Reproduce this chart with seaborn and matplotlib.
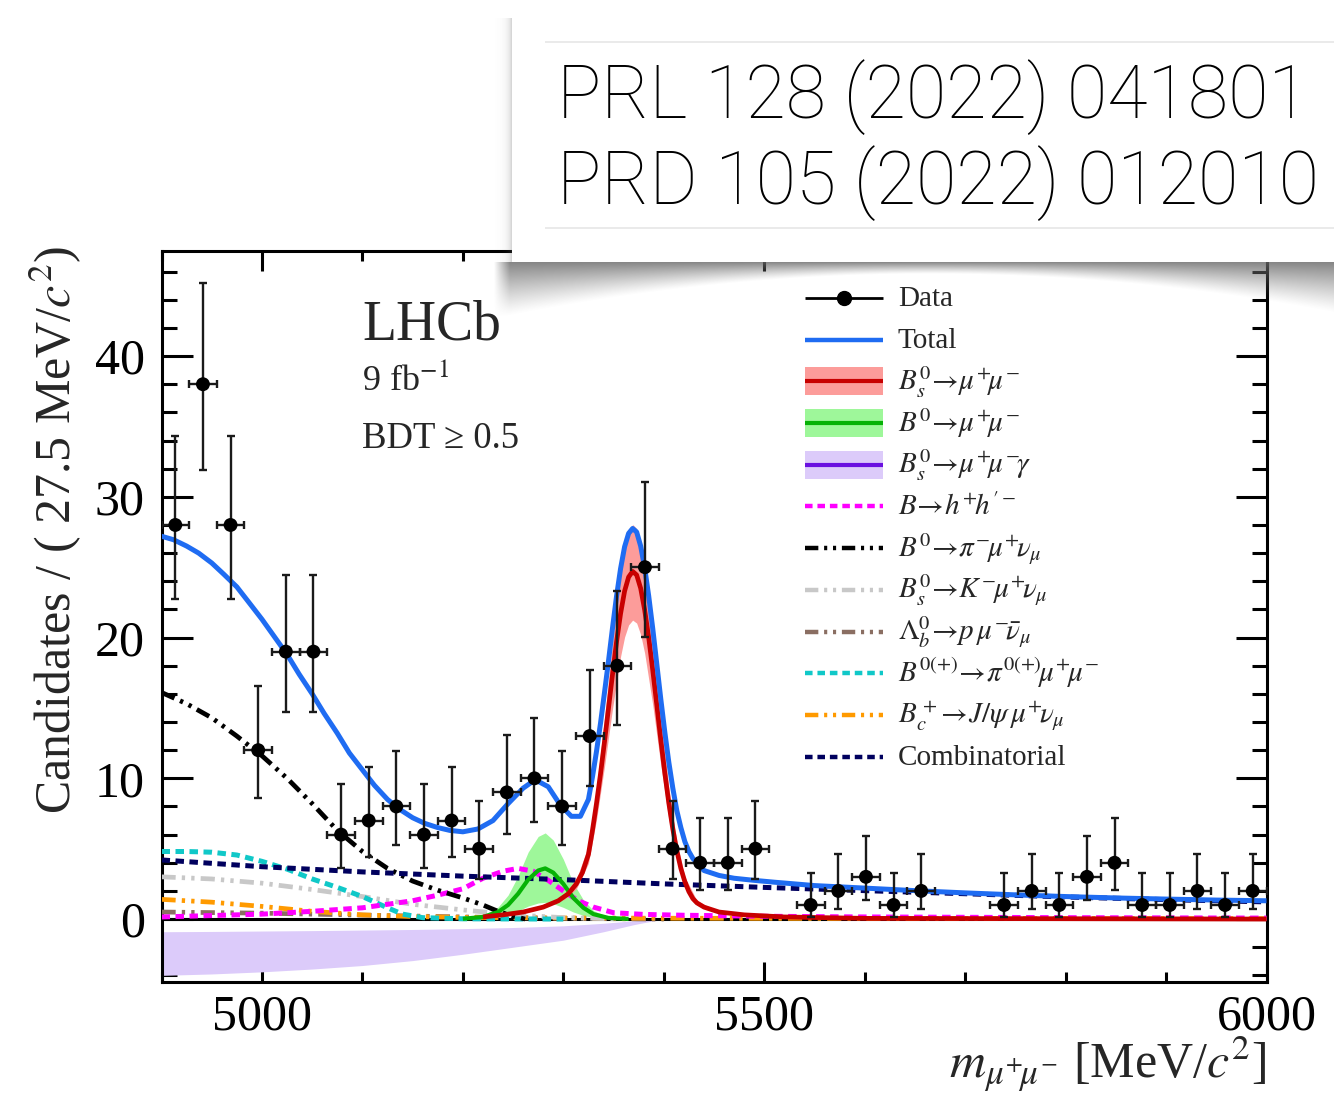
import numpy as np
import matplotlib
matplotlib.use("Agg")
import matplotlib.pyplot as plt
from matplotlib.ticker import MultipleLocator
from matplotlib.patches import Rectangle
from matplotlib.lines import Line2D
import seaborn as sns

# ---------------- data ----------------
bin_centers = [4913.75, 4941.25, 4968.75, 4996.25, 5023.75, 5051.25, 5078.75, 5106.25,
               5133.75, 5161.25, 5188.75, 5216.25, 5243.75, 5271.25, 5298.75, 5326.25,
               5353.75, 5381.25, 5408.75, 5436.25, 5463.75, 5491.25, 5518.75, 5546.25,
               5573.75, 5601.25, 5628.75, 5656.25, 5683.75, 5711.25, 5738.75, 5766.25,
               5793.75, 5821.25, 5848.75, 5876.25, 5903.75, 5931.25, 5958.75, 5986.25]
half_bin = 13.75
counts = [28, 38, 28, 12, 19, 19, 6, 7, 8, 6, 7, 5, 9, 10, 8, 13, 18, 25, 5, 4,
          4, 5, 0, 1, 2, 3, 1, 2, 0, 0, 1, 2, 1, 3, 4, 1, 1, 2, 1, 2]
err_lo = [5.26, 6.13, 5.26, 3.41, 4.32, 4.32, 2.38, 2.58, 2.77, 2.38, 2.58, 2.16, 2.94, 3.11,
          2.77, 3.56, 4.21, 4.96, 2.16, 1.91, 1.91, 2.16, 0, 0.83, 1.29, 1.63, 0.83, 1.29,
          0, 0, 0.83, 1.29, 0.83, 1.63, 1.91, 0.83, 0.83, 1.29, 0.83, 1.29]
err_hi = [6.35, 7.22, 6.35, 4.56, 5.43, 5.43, 3.58, 3.77, 3.95, 3.58, 3.77, 3.38, 4.11, 4.27,
          3.95, 4.70, 5.32, 6.06, 3.38, 3.16, 3.16, 3.38, 0, 2.30, 2.64, 2.92, 2.30, 2.64,
          0, 0, 2.30, 2.64, 2.30, 2.92, 3.16, 2.30, 2.30, 2.64, 2.30, 2.64]

total_x = [4900, 4912, 4925, 4937, 4950, 4962, 4975, 4987, 5000, 5012, 5025, 5037, 5050, 5062,
           5075, 5087, 5100, 5112, 5125, 5137, 5150, 5162, 5175, 5187, 5200, 5215, 5230, 5245,
           5260, 5272, 5285, 5297, 5308, 5317, 5325, 5329, 5333, 5337, 5341, 5345, 5349, 5353,
           5357, 5361, 5365, 5369, 5373, 5377, 5381, 5385, 5389, 5393, 5397, 5401, 5405, 5409,
           5413, 5417, 5421, 5425, 5429, 5433, 5440, 5455, 5470, 5490, 5510, 5550, 5600, 5650,
           5700, 5750, 5800, 5850, 5900, 5950, 6000]
total_y = [27.2, 26.95, 26.5, 26.0, 25.3, 24.5, 23.6, 22.5, 21.3, 20.1, 18.8, 17.4, 16.0, 14.6,
           13.2, 11.8, 10.6, 9.5, 8.5, 7.8, 7.2, 6.8, 6.5, 6.3, 6.2, 6.4, 7.0, 8.2,
           9.3, 9.9, 9.4, 8.1, 7.3, 7.3, 8.5, 10.1, 11.9, 13.9, 16.1, 18.35, 20.7, 22.95,
           24.9, 26.45, 27.4, 27.75, 27.5, 26.5, 24.95, 22.95, 20.65, 18.15, 15.65, 13.3, 11.15, 9.3,
           7.7, 6.5, 5.5, 4.8, 4.3, 4.0, 3.45, 3.1, 2.9, 2.75, 2.62, 2.38, 2.2, 2.02,
           1.86, 1.72, 1.6, 1.5, 1.42, 1.35, 1.3]

bs_x = [5220, 5240, 5260, 5280, 5295, 5305, 5313, 5319, 5325, 5329, 5333, 5337, 5341, 5345,
        5349, 5353, 5357, 5361, 5365, 5369, 5373, 5377, 5381, 5385, 5389, 5393, 5397, 5401,
        5405, 5409, 5413, 5417, 5421, 5425, 5429, 5433, 5440, 5455, 5480, 5520, 5600, 6000]
bs_y = [0.15, 0.3, 0.5, 0.85, 1.3, 1.8, 2.5, 3.3, 4.6, 6.3, 8.2, 10.3, 12.6, 15.0,
        17.4, 19.7, 21.7, 23.3, 24.3, 24.7, 24.45, 23.5, 21.95, 20.0, 17.7, 15.25, 12.75, 10.4,
        8.25, 6.4, 4.85, 3.6, 2.65, 1.95, 1.45, 1.15, 0.85, 0.5, 0.3, 0.15, 0.05, 0.0]
bsband_x = [5300, 5313, 5325, 5333, 5341, 5349, 5357, 5361, 5365, 5369, 5373, 5377, 5381,
            5389, 5397, 5405, 5413, 5421, 5433, 5450]
bsband_lo = [1.33, 2.15, 3.96, 7.05, 10.84, 14.96, 18.66, 20.04, 20.9, 21.24, 21.03, 20.21,
             18.88, 15.22, 10.97, 7.1, 4.17, 2.28, 0.99, 0.52]
bsband_hi = [1.76, 2.84, 5.22, 9.31, 14.3, 19.75, 24.63, 26.45, 27.58, 28.03, 27.75, 26.67,
             24.91, 20.09, 14.47, 9.36, 5.5, 3.01, 1.31, 0.68]

b0_x = [5200, 5220, 5235, 5245, 5255, 5265, 5275, 5282, 5290, 5300, 5310, 5320, 5330, 5345, 5365]
b0_y = [0.02, 0.15, 0.5, 1.0, 1.8, 2.8, 3.45, 3.6, 3.3, 2.5, 1.5, 0.8, 0.35, 0.08, 0.01]
b0_lo = [0.01, 0.05, 0.17, 0.33, 0.59, 0.92, 1.14, 1.19, 1.09, 0.83, 0.5, 0.26, 0.12, 0.03, 0.0]
b0_hi = [0.03, 0.26, 0.85, 1.7, 3.06, 4.76, 5.87, 6.12, 5.61, 4.25, 2.55, 1.36, 0.6, 0.14, 0.02]

gam_x = [4900, 4950, 5000, 5050, 5100, 5150, 5200, 5250, 5300, 5340, 5370, 5390, 5410]
gam_hi = [-0.9, -0.88, -0.85, -0.82, -0.78, -0.74, -0.68, -0.6, -0.48, -0.3, -0.12, -0.03, 0.0]
gam_lo = [-4.0, -3.9, -3.75, -3.55, -3.3, -2.95, -2.5, -2.0, -1.5, -0.9, -0.4, -0.12, 0.0]

comb_x = [4900, 5000, 5100, 5200, 5300, 5400, 5500, 5600, 5700, 5800, 5900, 6000]
comb_y = [4.2, 3.72, 3.35, 3.05, 2.8, 2.5, 2.25, 2.02, 1.8, 1.57, 1.38, 1.22]

pimunu_x = [4900, 4925, 4950, 4975, 5000, 5025, 5050, 5075, 5100, 5125, 5150, 5175, 5200,
            5220, 5235, 5250, 5262]
pimunu_y = [16.1, 15.3, 14.3, 13.0, 11.6, 10.0, 8.2, 6.3, 4.8, 3.6, 2.7, 2.05, 1.5,
            1.0, 0.55, 0.2, 0.0]

pimumu_x = [4900, 4925, 4950, 4975, 5000, 5025, 5050, 5075, 5100, 5125, 5140, 5160, 5200, 5300]
pimumu_y = [4.8, 4.8, 4.75, 4.55, 4.1, 3.55, 2.85, 2.25, 1.6, 0.8, 0.35, 0.1, 0.02, 0.0]

kmunu_x = [4900, 4950, 5000, 5050, 5100, 5150, 5200, 5250, 5300, 5350]
kmunu_y = [3.0, 2.85, 2.55, 2.1, 1.6, 1.05, 0.65, 0.3, 0.1, 0.02]

bc_x = [4900, 4950, 5000, 5050, 5100, 5150, 5200, 5300, 5400, 5600, 6000]
bc_y = [1.4, 1.2, 0.9, 0.55, 0.3, 0.18, 0.12, 0.08, 0.06, 0.04, 0.03]

lb_x = [4900, 5000, 5100, 5200, 5300, 5400]
lb_y = [0.5, 0.42, 0.28, 0.15, 0.05, 0.0]

hh_x = [4900, 4950, 5000, 5050, 5100, 5150, 5175, 5200, 5220, 5240, 5255, 5270, 5285, 5300,
        5315, 5330, 5350, 5380, 5420, 5500, 5600, 5800, 6000]
hh_y = [0.15, 0.25, 0.35, 0.55, 0.8, 1.3, 1.7, 2.15, 2.9, 3.4, 3.6, 3.4, 2.75, 2.0,
        1.3, 0.85, 0.45, 0.33, 0.27, 0.2, 0.15, 0.1, 0.07]

legend_labels = ["Data", "Total",
                 r"$B^0_s\!\rightarrow\!\mu^{+}\!\mu^{-}$",
                 r"$B^0\!\rightarrow\!\mu^{+}\!\mu^{-}$",
                 r"$B^0_s\!\rightarrow\!\mu^{+}\!\mu^{-}\!\gamma$",
                 r"$B\!\rightarrow\! h^{+}\!h^{\prime -}$",
                 r"$B^0\!\rightarrow\!\pi^{-}\!\mu^{+}\!\nu_\mu$",
                 r"$B^0_s\!\rightarrow\! K^{-}\!\mu^{+}\!\nu_\mu$",
                 r"$\mathit{\Lambda}^0_b\!\rightarrow\! p\,\mu^{-}\!\bar{\nu}_\mu$",
                 r"$B^{0(+)}\!\rightarrow\!\pi^{0(+)}\!\mu^{+}\!\mu^{-}$",
                 r"$B^+_c\!\rightarrow\! J/\psi\,\mu^{+}\!\nu_\mu$",
                 "Combinatorial"]
refs_text = ["PRL 128 (2022) 041801", "PRD 105 (2022) 012010"]

# ---------------- style ----------------
sns.set_theme(style="ticks")
SERIF = ["Liberation Serif", "DejaVu Serif"]
plt.rcParams.update({
    "font.family": SERIF,
    "font.serif": SERIF,
    "mathtext.fontset": "stix",
    "axes.linewidth": 2.2,
    "lines.solid_capstyle": "butt",
    "lines.dash_capstyle": "butt",
})

C_BLUE = "#1f6cf2"
C_RED = "#c80000"
C_REDBAND = "#fc9c9a"
C_GREEN = "#06b206"
C_GREENBAND = "#9ef79a"
C_VIOLET = "#6a10e0"
C_VIOBAND = "#dccbfa"
C_MAG = "#ff00ff"
C_CYAN = "#10c8c8"
C_GREY = "#c8c8c8"
C_BROWN = "#8a6e62"
C_ORANGE = "#ff9a00"
C_NAVY = "#00005e"

D_DASH = (1.7, 1.1)
D_DDOT = (3.0, 1.3, 0.7, 1.3, 0.7, 1.3)

W, H = 1334, 1108
fig = plt.figure(figsize=(W / 100, H / 100), dpi=100)
fig.patch.set_facecolor("white")
ax_l, ax_r, ax_t, ax_b = 161.5, 1266.5, 250.5, 981.7
ax = fig.add_axes([ax_l / W, (H - ax_b) / H, (ax_r - ax_l) / W, (ax_b - ax_t) / H])
ax.set_facecolor("white")


def curve(x, y, color, lw, dashes=None, z=4):
    sns.lineplot(x=x, y=y, ax=ax, color=color, linewidth=lw, estimator=None,
                 sort=False, zorder=z)
    ln = ax.lines[-1]
    if dashes is not None:
        ln.set_dashes(dashes)
    ln.set_solid_joinstyle("round")
    return ln


# bands
ax.fill_between(gam_x, gam_lo, gam_hi, color=C_VIOBAND, lw=0, zorder=2)
ax.fill_between(b0_x, b0_lo, b0_hi, color=C_GREENBAND, lw=0, zorder=2.2)
ax.fill_between(bsband_x, bsband_lo, bsband_hi, color=C_REDBAND, lw=0, zorder=2.4)
ax.axhline(0, color="black", lw=2.2, zorder=2.6)

# components
curve(lb_x, lb_y, C_BROWN, 3.4, D_DDOT, 3)
curve(bc_x, bc_y, C_ORANGE, 3.4, D_DDOT, 3)
curve(kmunu_x, kmunu_y, C_GREY, 3.4, D_DDOT, 3)
curve(pimumu_x, pimumu_y, C_CYAN, 3.6, D_DASH, 3.1)
curve(hh_x, hh_y, C_MAG, 3.6, D_DASH, 3.2)
curve(pimunu_x, pimunu_y, "black", 3.4, D_DDOT, 3.3)
curve(comb_x, comb_y, C_NAVY, 3.6, D_DASH, 3.4)
curve(b0_x, b0_y, C_GREEN, 3.0, None, 3.5)
curve(bs_x, bs_y, C_RED, 3.4, None, 3.6)
curve(total_x, total_y, C_BLUE, 3.6, None, 4.5)

# data
cnt = np.array(counts, dtype=float)
m = cnt > 0
xc = np.array(bin_centers)[m]
ax.errorbar(xc, cnt[m], yerr=[np.array(err_lo)[m], np.array(err_hi)[m]],
            xerr=half_bin, fmt="none", ecolor="#1a1a1a", elinewidth=1.7,
            capsize=2.8, capthick=1.7, zorder=9)
sns.scatterplot(x=xc, y=cnt[m], ax=ax, color="black", s=100, edgecolor="none",
                zorder=10, legend=False)

# axes
ax.set_xlim(4900, 6000)
ax.set_ylim(-4.45, 47.5)
ax.xaxis.set_major_locator(MultipleLocator(500))
ax.xaxis.set_minor_locator(MultipleLocator(100))
ax.yaxis.set_major_locator(MultipleLocator(10))
ax.yaxis.set_minor_locator(MultipleLocator(2))
ax.tick_params(axis="both", which="both", direction="in", top=True, right=True,
               width=2.2, colors="black", labelsize=36, labelfontfamily="Liberation Serif")
ax.tick_params(axis="y", which="major", length=22, pad=12)
ax.tick_params(axis="y", which="minor", length=11)
ax.tick_params(axis="x", which="major", length=14.5, pad=9)
ax.tick_params(axis="x", which="minor", length=7.5)
for s in ax.spines.values():
    s.set_linewidth(2.2)
    s.set_color("black")
    s.set_visible(True)

ax.set_ylabel(r"Candidates / ( 27.5 MeV/$c^2$)", fontsize=36, loc="top")
ax.yaxis.set_label_coords(-0.070, 1.007)
ax.set_xlabel(r"$m_{\mu^{+}\!\mu^{-}}$ [MeV/$c^2$]", fontsize=36, loc="right")
ax.xaxis.set_label_coords(1.0, -0.072)

# LHCb labels
ax.text(0.1814, 0.8776, "LHCb", transform=ax.transAxes, fontsize=40, va="baseline")
ax.text(0.1814, 0.809, r"9 fb$^{-1}$", transform=ax.transAxes, fontsize=26, va="baseline")
ax.text(0.1814, 0.730, "BDT ≥ 0.5", transform=ax.transAxes, fontsize=26.5, va="baseline")

# legend (drawn by hand, ROOT style)
leg_x0, leg_x1, leg_tx = (805 - ax_l) / 1105, (883 - ax_l) / 1105, (898 - ax_l) / 1105
row0 = (ax_b - 298) / (ax_b - ax_t)
drow = 41.7 / (ax_b - ax_t)
patch_h = 28 / (ax_b - ax_t)
base_off = 8.5 / (ax_b - ax_t)
leg_styles = [
    dict(color="black", lw=2.0, dashes=None, band=None, marker=True),
    dict(color=C_BLUE, lw=3.2, dashes=None, band=None),
    dict(color=C_RED, lw=3.0, dashes=None, band=C_REDBAND),
    dict(color=C_GREEN, lw=3.0, dashes=None, band=C_GREENBAND),
    dict(color=C_VIOLET, lw=3.0, dashes=None, band=C_VIOBAND),
    dict(color=C_MAG, lw=3.2, dashes=D_DASH, band=None),
    dict(color="black", lw=3.2, dashes=D_DDOT, band=None),
    dict(color=C_GREY, lw=3.2, dashes=D_DDOT, band=None),
    dict(color=C_BROWN, lw=3.2, dashes=D_DDOT, band=None),
    dict(color=C_CYAN, lw=3.2, dashes=D_DASH, band=None),
    dict(color=C_ORANGE, lw=3.2, dashes=D_DDOT, band=None),
    dict(color=C_NAVY, lw=3.2, dashes=D_DASH, band=None),
]
for r, (lab, st) in enumerate(zip(legend_labels, leg_styles)):
    yc = row0 - r * drow
    if st["band"]:
        ax.add_patch(Rectangle((leg_x0, yc - patch_h / 2), leg_x1 - leg_x0, patch_h,
                               transform=ax.transAxes, facecolor=st["band"],
                               edgecolor="none", clip_on=False, zorder=11))
    ln = Line2D([leg_x0, leg_x1], [yc, yc], transform=ax.transAxes, color=st["color"],
                lw=st["lw"], clip_on=False, zorder=12)
    if st["dashes"]:
        ln.set_dashes(st["dashes"])
    ax.add_line(ln)
    if st.get("marker"):
        ax.add_line(Line2D([(leg_x0 + leg_x1) / 2], [yc], transform=ax.transAxes,
                           marker="o", markersize=10, color="black", lw=0,
                           clip_on=False, zorder=12))
    ax.text(leg_tx, yc - base_off, lab, transform=ax.transAxes, fontsize=21,
            va="baseline", ha="left", zorder=12)

# ---- reference box with shadow ----
sx0, sx1, sy0, sy1 = 490, 1334, 10, 330
xs = np.arange(sx0, sx1) + 0.5
ys = np.arange(sy0, sy1) + 0.5
XX, YY = np.meshgrid(xs, ys)
alpha = np.zeros_like(XX)
below = YY >= 262
depth = 12 + 38 * np.clip(np.abs(XX - 930) / 400, 0, 1.15) ** 2
a1 = 0.8 * np.clip(1 - (YY - 262) / depth, 0, 1) ** 1.2
a1 *= np.clip((XX - 494) / 16, 0, 1)
alpha[below] = a1[below]
left = (XX < 512) & (YY >= 18) & (YY < 262)
alpha[left] = (0.3 * np.exp(-(512 - XX) / 4.0))[left]
rgba = np.zeros(XX.shape + (4,))
rgba[..., :3] = 0.40
rgba[..., 3] = alpha
sh_ax = fig.add_axes([sx0 / W, (H - sy1) / H, (sx1 - sx0) / W, (sy1 - sy0) / H], zorder=5)
sh_ax.imshow(rgba, aspect="auto", interpolation="bilinear")
sh_ax.set_axis_off()

box_ax = fig.add_axes([512 / W, (H - 262) / H, (W - 512) / W, 252 / H], zorder=6)
box_ax.set_facecolor("white")
box_ax.set_xlim(0, 1)
box_ax.set_ylim(0, 1)
box_ax.set_xticks([])
box_ax.set_yticks([])
for s in box_ax.spines.values():
    s.set_visible(False)
for yy in ((262 - 42) / 252, (262 - 228) / 252):
    box_ax.axhline(yy, xmin=(545 - 512) / 822, xmax=1, color="#e6e6e6", lw=1.2)
for txt, yy in zip(refs_text, ((262 - 97) / 252, (262 - 183) / 252)):
    box_ax.text((557 - 512) / 822, yy, txt, fontsize=53, va="center", ha="left",
                family=["Roboto", "DejaVu Sans"], fontweight="light", color="black")

fig.savefig("out.png", dpi=100, facecolor="white")
